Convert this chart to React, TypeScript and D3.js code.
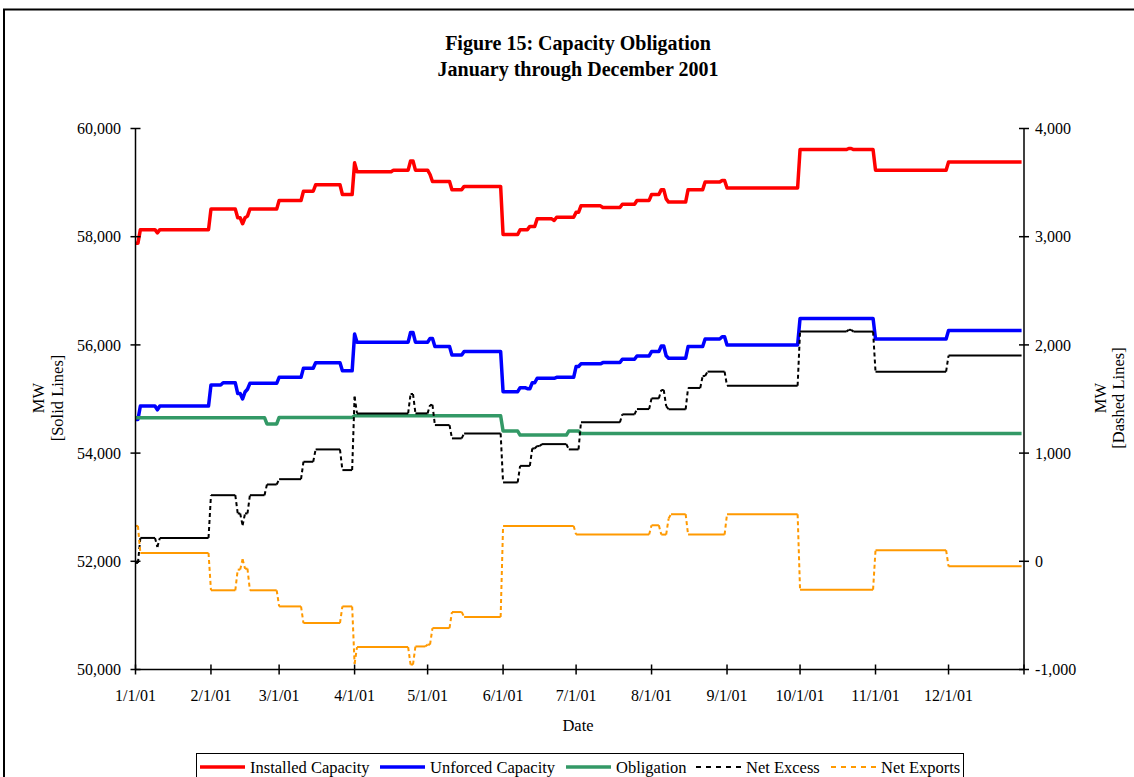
import React from "react";
import * as d3 from "d3";

const YEAR = 2001;

const xTickLabels = ["1/1/01", "2/1/01", "3/1/01", "4/1/01", "5/1/01", "6/1/01", "7/1/01", "8/1/01", "9/1/01", "10/1/01", "11/1/01", "12/1/01"];
const leftTicks = [50000, 52000, 54000, 56000, 58000, 60000];
const rightTicks = [-1000, 0, 1000, 2000, 3000, 4000];

// Each entry: [date the value starts (M/D of 2001), value in MW]
const installedCapacity: [string, number][] = [
  ["1/1", 57880], ["1/3", 58130], ["1/10", 58070], ["1/11", 58130],
  ["2/1", 58510], ["2/12", 58350], ["2/14", 58240], ["2/15", 58350], ["2/16", 58380], ["2/17", 58510],
  ["3/1", 58670], ["3/11", 58840], ["3/16", 58960], ["3/27", 58780],
  ["4/1", 59365], ["4/2", 59200], ["4/17", 59230], ["4/24", 59400], ["4/26", 59230],
  ["5/2", 59150], ["5/3", 59020], ["5/11", 58870], ["5/16", 58930],
  ["6/1", 58040], ["6/8", 58130], ["6/12", 58190], ["6/15", 58330], ["6/22", 58300], ["6/23", 58360],
  ["7/1", 58450], ["7/3", 58570], ["7/12", 58540], ["7/20", 58600], ["7/26", 58670],
  ["8/1", 58780], ["8/5", 58870], ["8/7", 58700], ["8/8", 58640], ["8/16", 58870], ["8/23", 59010], ["8/30", 59040],
  ["9/1", 58900], ["10/1", 59610], ["10/21", 59630], ["10/23", 59610],
  ["11/1", 59230], ["12/1", 59380],
];

const unforcedCapacity: [string, number][] = [
  ["1/1", 54620], ["1/3", 54870], ["1/10", 54800], ["1/11", 54870],
  ["2/1", 55260], ["2/6", 55300], ["2/12", 55100], ["2/14", 55000], ["2/15", 55130], ["2/16", 55180], ["2/17", 55290],
  ["3/1", 55400], ["3/11", 55570], ["3/16", 55670], ["3/27", 55520],
  ["4/1", 56200], ["4/2", 56050], ["4/24", 56230], ["4/26", 56050],
  ["5/2", 56120], ["5/4", 55970], ["5/11", 55815], ["5/16", 55880],
  ["6/1", 55135], ["6/8", 55210], ["6/11", 55190], ["6/13", 55300], ["6/15", 55383], ["6/23", 55400],
  ["7/1", 55600], ["7/3", 55650], ["7/12", 55673], ["7/20", 55735], ["7/26", 55796],
  ["8/1", 55876], ["8/5", 55980], ["8/7", 55800], ["8/8", 55753], ["8/16", 55970], ["8/23", 56110], ["8/30", 56150],
  ["9/1", 56000], ["10/1", 56490], ["11/1", 56110], ["12/1", 56265],
];

const obligation: [string, number][] = [
  ["1/1", 54655], ["2/24", 54540], ["3/1", 54660], ["4/1", 54690],
  ["6/1", 54407], ["6/8", 54333], ["6/28", 54407], ["7/3", 54364],
];

const netExcess: [string, number][] = [
  ["1/1", -15], ["1/3", 216], ["1/10", 133], ["1/11", 216],
  ["2/1", 611], ["2/12", 442], ["2/14", 333], ["2/15", 442], ["2/17", 611], ["2/24", 710],
  ["3/1", 759], ["3/11", 920], ["3/16", 1034], ["3/27", 843],
  ["4/1", 1521], ["4/2", 1367], ["4/24", 1546], ["4/26", 1367],
  ["5/2", 1445], ["5/4", 1259], ["5/11", 1136], ["5/16", 1182],
  ["6/1", 729], ["6/8", 882], ["6/13", 1043], ["6/15", 1065], ["6/17", 1083], ["6/28", 1034],
  ["7/3", 1284], ["7/20", 1358], ["7/26", 1407],
  ["8/1", 1506], ["8/5", 1583], ["8/7", 1435], ["8/8", 1405], ["8/16", 1602], ["8/22", 1713], ["8/24", 1753],
  ["9/1", 1623], ["10/1", 2123], ["10/21", 2139], ["10/23", 2123],
  ["11/1", 1753], ["12/1", 1901],
];

const netExports: [string, number][] = [
  ["1/1", 327], ["1/3", 77],
  ["2/1", -268], ["2/12", -77], ["2/14", 18], ["2/15", -68], ["2/17", -268],
  ["3/1", -417], ["3/11", -571], ["3/27", -417],
  ["4/1", -947], ["4/2", -793], ["4/24", -954], ["4/26", -787],
  ["5/1", -770], ["5/3", -617], ["5/11", -469], ["5/16", -515],
  ["6/1", 327], ["7/1", 247],
  ["8/1", 333], ["8/5", 247], ["8/8", 395], ["8/9", 435], ["8/16", 247],
  ["9/1", 435], ["10/1", -262], ["11/1", 102], ["12/1", -46],
];

const legendItems = [
  { label: "Installed Capacity", color: "#FF0000", dashed: false },
  { label: "Unforced Capacity", color: "#0000FF", dashed: false },
  { label: "Obligation", color: "#339966", dashed: false },
  { label: "Net Excess", color: "#000000", dashed: true },
  { label: "Net Exports", color: "#FF9900", dashed: true },
];

const DAY = 86400000;
const toDate = (md: string) => {
  const [m, d] = md.split("/").map(Number);
  return new Date(Date.UTC(YEAR, m - 1, d));
};

type Pt = { t: Date; v: number };

// Values hold from their start date until the day before the next change.
function stepPoints(data: [string, number][]): Pt[] {
  const pts: Pt[] = [];
  const end = Date.UTC(YEAR, 11, 31);
  data.forEach(([md, v], i) => {
    const t = toDate(md).getTime();
    pts.push({ t: new Date(t), v });
    const holdEnd = i < data.length - 1 ? toDate(data[i + 1][0]).getTime() - DAY : end;
    if (holdEnd > t) pts.push({ t: new Date(holdEnd), v });
  });
  return pts;
}

const SERIF = "'Liberation Serif', 'Times New Roman', Times, serif";
const fmt = (v: number) => d3.format(",")(v).replace("\u2212", "-");

export default function App() {
  const W = 1134, H = 777;
  const left = 135.5, right = 1024, top = 128.5, bottom = 669.5;

  const x = d3.scaleUtc().domain([new Date(Date.UTC(YEAR, 0, 1)), new Date(Date.UTC(YEAR + 1, 0, 1))]).range([left, right]);
  const y = d3.scaleLinear().domain([50000, 60000]).range([bottom, top]);
  const y2 = d3.scaleLinear().domain([-1000, 4000]).range([bottom, top]);

  const tickDates = xTickLabels.map((s) => {
    const [m, d] = s.split("/").map(Number);
    return new Date(Date.UTC(YEAR, m - 1, d));
  });

  const solid = [
    { data: installedCapacity, color: "#FF0000" },
    { data: unforcedCapacity, color: "#0000FF" },
    { data: obligation, color: "#339966" },
  ];
  const dashed = [
    { data: netExcess, color: "#000000" },
    { data: netExports, color: "#FF9900" },
  ];

  const lineGen = (sc: d3.ScaleLinear<number, number>) =>
    d3.line<Pt>().x((p) => x(p.t)).y((p) => sc(p.v));

  const renderDashed = (data: [string, number][], color: string, key: string) => {
    const pts = stepPoints(data);
    const holds: Pt[][] = [];
    const ramps: [Pt, Pt][] = [];
    for (let i = 0; i < pts.length - 1; i++) {
      const a = pts[i], b = pts[i + 1];
      if (a.v === b.v) holds.push([a, b]);
      else ramps.push([a, b]);
    }
    const lg = lineGen(y2);
    return (
      <g key={key}>
        {holds.map((h, i) => (
          <path key={"h" + i} d={lg(h) || ""} fill="none" stroke={color} strokeWidth={2} />
        ))}
        {ramps.map((r, i) => (
          <path key={"r" + i} d={lg(r) || ""} fill="none" stroke={color} strokeWidth={2} strokeDasharray="4,3" />
        ))}
      </g>
    );
  };

  // legend layout
  const legendX = [200, 380, 566, 696, 831];
  const legendY = 767;

  return (
    <svg width={W} height={H} style={{ position: "absolute", left: 0, top: 0, background: "#fff" }} fontFamily={SERIF}>
      <rect x={0} y={0} width={W} height={H} fill="#fff" />
      <rect x={4} y={9.5} width={1200} height={900} fill="none" stroke="#000" strokeWidth={2} />

      <text x={578} y={50} textAnchor="middle" fontSize={20} fontWeight="bold">Figure 15: Capacity Obligation</text>
      <text x={578} y={76} textAnchor="middle" fontSize={20} fontWeight="bold">January through December 2001</text>

      {/* series */}
      {solid.map((s, i) => (
        <path key={i} d={lineGen(y)(stepPoints(s.data)) || ""} fill="none" stroke={s.color} strokeWidth={3.5} strokeLinejoin="round" />
      ))}
      {dashed.map((s, i) => renderDashed(s.data, s.color, "d" + i))}

      {/* axes */}
      <line x1={left} x2={left} y1={top} y2={bottom} stroke="#000" strokeWidth={1.5} />
      <line x1={right} x2={right} y1={top} y2={bottom} stroke="#000" strokeWidth={1.5} />
      <line x1={left} x2={right} y1={bottom} y2={bottom} stroke="#000" strokeWidth={1.5} />

      {leftTicks.map((t) => (
        <g key={"l" + t}>
          <line x1={left - 5} x2={left + 5} y1={y(t)} y2={y(t)} stroke="#000" strokeWidth={1.5} />
          <text x={121} y={y(t)} dy="0.35em" textAnchor="end" fontSize={16}>{fmt(t)}</text>
        </g>
      ))}
      {rightTicks.map((t) => (
        <g key={"r" + t}>
          <line x1={right - 5} x2={right + 5} y1={y2(t)} y2={y2(t)} stroke="#000" strokeWidth={1.5} />
          <text x={1035} y={y2(t)} dy="0.35em" textAnchor="start" fontSize={16}>{fmt(t)}</text>
        </g>
      ))}
      {tickDates.map((d, i) => (
        <g key={"x" + i}>
          <line x1={x(d)} x2={x(d)} y1={bottom - 5} y2={bottom + 5} stroke="#000" strokeWidth={1.5} />
          <text x={x(d)} y={701} textAnchor="middle" fontSize={16}>{xTickLabels[i]}</text>
        </g>
      ))}
      <line x1={right} x2={right} y1={bottom - 5} y2={bottom + 5} stroke="#000" strokeWidth={1.5} />

      <text x={578} y={731} textAnchor="middle" fontSize={16.5}>Date</text>

      <g transform="translate(38,398) rotate(-90)">
        <text textAnchor="middle" dy="0.35em" fontSize={16.5}>MW</text>
      </g>
      <g transform="translate(57,398) rotate(-90)">
        <text textAnchor="middle" dy="0.35em" fontSize={16.5}>[Solid Lines]</text>
      </g>
      <g transform="translate(1100,398) rotate(-90)">
        <text textAnchor="middle" dy="0.35em" fontSize={16.5}>MW</text>
      </g>
      <g transform="translate(1118,398) rotate(-90)">
        <text textAnchor="middle" dy="0.35em" fontSize={16.5}>[Dashed Lines]</text>
      </g>

      {/* legend */}
      <rect x={196.5} y={753.5} width={767} height={40} fill="#fff" stroke="#000" strokeWidth={1} />
      {legendItems.map((it, i) => (
        <g key={"lg" + i}>
          <line x1={legendX[i]} x2={legendX[i] + 45} y1={legendY} y2={legendY} stroke={it.color}
            strokeWidth={it.dashed ? 2 : 3.5} strokeDasharray={it.dashed ? "5,5" : undefined} />
          <text x={legendX[i] + 50} y={773} fontSize={16.5}>{it.label}</text>
        </g>
      ))}
    </svg>
  );
}
